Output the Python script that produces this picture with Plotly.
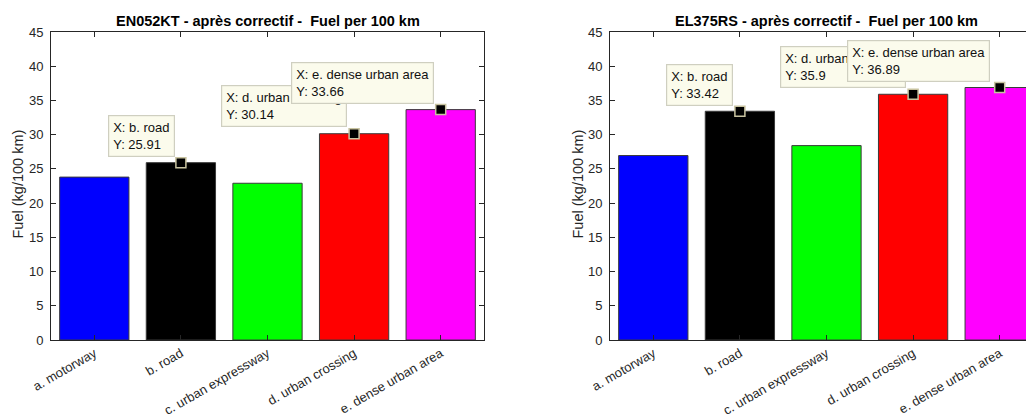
import plotly.graph_objects as go

categories = ["a. motorway", "b. road", "c. urban expressway", "d. urban crossing", "e. dense urban area"]
values_left = [23.8, 25.91, 22.9, 30.14, 33.66]
values_right = [26.95, 33.42, 28.4, 35.9, 36.89]
bar_colors = ["#0000FF", "#000000", "#00FF00", "#FF0000", "#FF00FF"]
title_left = "EN052KT - après correctif -  Fuel per 100 km"
title_right = "EL375RS - après correctif -  Fuel per 100 km"
ylabel = "Fuel (kg/100 km)"
y_ticks = [0, 5, 10, 15, 20, 25, 30, 35, 40, 45]
# data tips: category indices
tips_left = [1, 3, 4]
tips_right = [1, 3, 4]
tip_shift_left = [(-6, 6), (-7, 7), (-7, 6)]
tip_shift_right = [(-7, 5), (-7, 6), (-10, 6)]

OFF = 8  # page body margin
W, H = 1034 - OFF, 418 - OFF
AX = "#262626"
FONT = "Liberation Sans, Arial, Helvetica, sans-serif"

fig = go.Figure()

def px_x(p):
    return (p - OFF) / W

def px_y(p):
    return 1 - (p - OFF) / H

panels = [
    ("x", "y", values_left, tips_left, tip_shift_left),
    ("x2", "y2", values_right, tips_right, tip_shift_right),
]

for xa, ya, vals, tips, shifts in panels:
    fig.add_trace(go.Bar(
        x=list(range(1, 6)), y=vals, width=0.8,
        marker=dict(color=bar_colors, line=dict(color="#3a3a3a", width=1)),
        xaxis=xa, yaxis=ya, showlegend=False, hoverinfo="skip"))
    fig.add_trace(go.Scatter(
        x=[i + 1 for i in tips], y=[vals[i] for i in tips], mode="markers",
        marker=dict(symbol="square", size=10, color="black",
                    line=dict(color="#c8c3a0", width=1.5)),
        xaxis=xa, yaxis=ya, showlegend=False, hoverinfo="skip"))
    for (i, (dx, dy)) in zip(tips, shifts):
        v = vals[i]
        fig.add_annotation(
            x=i + 1, y=v, xref=xa, yref=ya,
            text=f"X: {categories[i]}<br>Y: {v:g}",
            showarrow=False, xanchor="right", yanchor="bottom",
            xshift=dx, yshift=dy, align="left",
            bgcolor="#FBFBEC", bordercolor="#CFCFC0", borderwidth=1.2, borderpad=4,
            font=dict(family=FONT, size=13, color="#111111"))

common_x = dict(
    tickmode="array", tickvals=list(range(1, 6)), ticktext=categories,
    tickangle=-30, ticks="inside", ticklen=5, tickcolor=AX, showline=True,
    linecolor=AX, linewidth=1, mirror="ticks", showgrid=False, zeroline=False,
    automargin=False, tickfont=dict(family=FONT, size=13, color=AX))
common_y = dict(
    range=[0, 45], tickvals=y_ticks, ticks="inside", ticklen=5, tickcolor=AX,
    showline=True, linecolor=AX, linewidth=1, showgrid=False, zeroline=False,
    automargin=False, ticklabelstandoff=4, tickfont=dict(family=FONT, size=13, color=AX))

y_dom = [px_y(340), px_y(32)]
fig.update_layout(
    width=W, height=H, margin=dict(l=0, r=0, t=0, b=0, autoexpand=False),
    paper_bgcolor="white", plot_bgcolor="white", bargap=0.2,
    xaxis=dict(domain=[px_x(51), px_x(484)], range=[0.5, 5.5], anchor="y", **common_x),
    yaxis=dict(domain=y_dom, anchor="x", mirror="ticks", **common_y),
    xaxis2=dict(domain=[px_x(610), 1.0], range=[0.5, 5.5 - 9 / 86.6], anchor="y2", **common_x),
    yaxis2=dict(domain=y_dom, anchor="x2", mirror=False, **common_y),
)

for cx, t in [((51 + 484) / 2, title_left), ((610 + 1043) / 2, title_right)]:
    fig.add_annotation(x=px_x(cx), y=px_y(21), xref="paper", yref="paper",
                       text=f"<b>{t}</b>", showarrow=False, xanchor="center", yanchor="middle",
                       font=dict(family=FONT, size=14.5, color="black"))
for lx in [17.5, 577.5]:
    fig.add_annotation(x=px_x(lx), y=px_y(184), xref="paper", yref="paper",
                       text=ylabel, showarrow=False, textangle=-90,
                       xanchor="center", yanchor="middle",
                       font=dict(family=FONT, size=14.5, color=AX))

fig.write_html("out.html")
